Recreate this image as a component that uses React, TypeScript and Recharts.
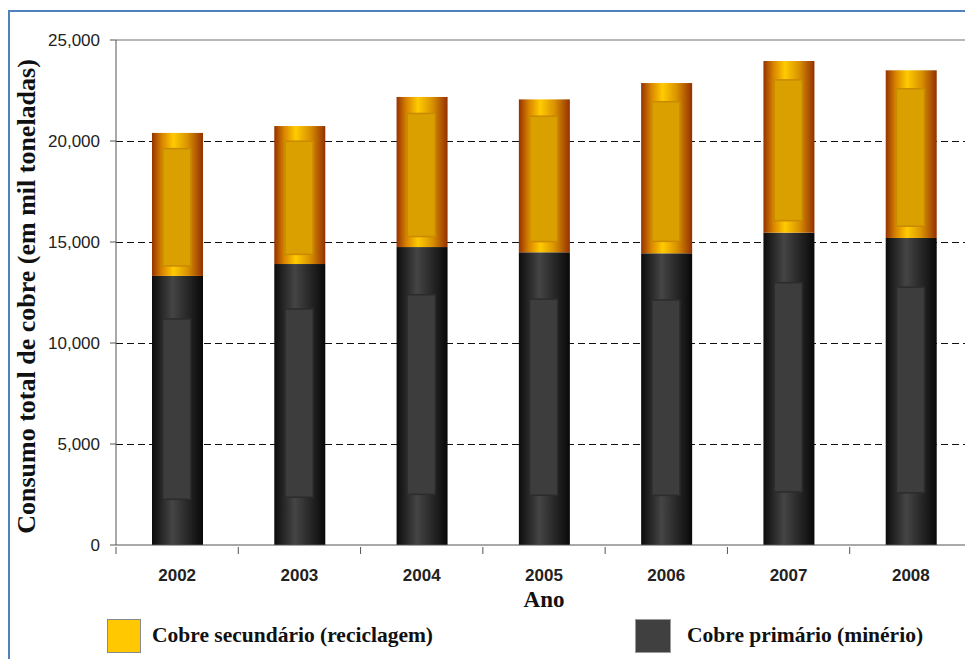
import React from 'react';
import { BarChart, Bar, XAxis, YAxis, CartesianGrid, ReferenceLine, Legend } from 'recharts';

// Consumo mundial de cobre por ano (mil toneladas)
const YEARS = ['2002', '2003', '2004', '2005', '2006', '2007', '2008'];
const PRIMARY = [13320, 13910, 14750, 14490, 14440, 15460, 15200];
const SECONDARY = [7080, 6830, 7430, 7570, 8430, 8500, 8300];
const Y_TICKS = [0, 5000, 10000, 15000, 20000, 25000];
const GRID_VALUES = [5000, 10000, 15000, 20000];
const SERIES_NAMES = ['Cobre secundário (reciclagem)', 'Cobre primário (minério)'];

const data = YEARS.map((ano, i) => ({ ano, primario: PRIMARY[i], secundario: SECONDARY[i] }));

const SANS = "'Liberation Sans', Arial, sans-serif";
const SERIF = "'Liberation Serif', 'Times New Roman', serif";

const W = 965;
const H = 651;

function makeCylinder(gradId: string, innerFill: string, innerStroke: string, topFrac: number, bottomFrac: number) {
  return (props: any) => {
    const { x, y, width, height } = props;
    if (!height || height <= 0) return <g />;
    const ix = x + width * 0.21;
    const iw = width * 0.55;
    const iy = y + height * topFrac;
    const ih = height * (1 - topFrac - bottomFrac);
    return (
      <g>
        <rect x={x} y={y} width={width} height={height} fill={`url(#${gradId})`} />
        <rect x={ix} y={iy} width={iw} height={ih} fill={innerFill} stroke={innerStroke} strokeWidth={1.5} />
      </g>
    );
  };
}

const GoldShape = makeCylinder('goldGrad', '#d9a000', '#c98a00', 0.11, 0.07);
const DarkShape = makeCylinder('darkGrad', '#3d3d3d', '#2c2c2c', 0.16, 0.17);

const YearTick = (props: any) => {
  const { x, y, payload, index } = props;
  const half = payload && typeof payload.offset === 'number' && payload.offset > 0 ? payload.offset : 61;
  return (
    <g>
      {index === 0 && <line x1={x - half} y1={y} x2={x - half} y2={y + 7} stroke="#555" />}
      <line x1={x + half} y1={y} x2={x + half} y2={y + 7} stroke="#555" />
      <text x={x} y={y + 34} textAnchor="middle" fontFamily={SANS} fontWeight="bold" fontSize={17} fill="#222">
        {payload.value}
      </text>
    </g>
  );
};

const YLabel = (props: any) => {
  const vb = props.viewBox || {};
  const cx = 18;
  const cy = (vb.y || 0) + (vb.height || 0) / 2 + 4;
  return (
    <text
      x={cx}
      y={cy}
      transform={`rotate(-90, ${cx}, ${cy})`}
      textAnchor="middle"
      dominantBaseline="central"
      fontFamily={SERIF}
      fontWeight="bold"
      fontSize={26}
      fill="#111"
    >
      Consumo total de cobre (em mil toneladas)
    </text>
  );
};

const LegendContent = () => (
  <div style={{ position: 'relative', width: W, height: 46 }}>
    <div style={{ position: 'absolute', left: 99, top: 6, width: 32, height: 32, background: '#ffc800', border: '1px solid #8a8a8a' }} />
    <div style={{ position: 'absolute', left: 144, top: 8, fontFamily: SERIF, fontWeight: 'bold', fontSize: 21.5, color: '#111', lineHeight: '28px', whiteSpace: 'nowrap' }}>
      {SERIES_NAMES[0]}
    </div>
    <div style={{ position: 'absolute', left: 627, top: 6, width: 34, height: 32, background: '#404040', border: '1px solid #9a9a9a' }} />
    <div style={{ position: 'absolute', left: 679, top: 8, fontFamily: SERIF, fontWeight: 'bold', fontSize: 21.5, color: '#111', lineHeight: '28px', whiteSpace: 'nowrap' }}>
      {SERIES_NAMES[1]}
    </div>
  </div>
);

export default function App() {
  return (
    <div style={{ position: 'relative', width: W, height: H, overflow: 'hidden', background: '#fff' }}>
      <div style={{ position: 'absolute', left: 0, top: 2, width: W, height: H, borderLeft: '2px solid #4f81bd', borderTop: '2px solid #4f81bd', boxSizing: 'border-box', pointerEvents: 'none', zIndex: 2 }} />
      <BarChart width={W} height={H} data={data} margin={{ top: 32, right: 1, left: 0, bottom: 0 }} barSize={51}>
        <defs>
          <linearGradient id="goldGrad" x1="0" y1="0" x2="1" y2="0">
            <stop offset="0%" stopColor="#963200" />
            <stop offset="20%" stopColor="#d98600" />
            <stop offset="42%" stopColor="#ffcb00" />
            <stop offset="70%" stopColor="#d99200" />
            <stop offset="100%" stopColor="#943000" />
          </linearGradient>
          <linearGradient id="darkGrad" x1="0" y1="0" x2="1" y2="0">
            <stop offset="0%" stopColor="#0c0c0c" />
            <stop offset="40%" stopColor="#454545" />
            <stop offset="75%" stopColor="#222" />
            <stop offset="100%" stopColor="#080808" />
          </linearGradient>
        </defs>
        <CartesianGrid vertical={false} horizontalValues={GRID_VALUES} stroke="#111" strokeDasharray="7 4" shapeRendering="crispEdges" />
        <ReferenceLine y={25000} stroke="#a0a0a0" strokeWidth={1.5} ifOverflow="visible" />
        <XAxis
          dataKey="ano"
          height={68}
          axisLine={{ stroke: '#555' }}
          tickLine={false}
          tickSize={0}
          tick={<YearTick />}
          interval={0}
          label={{ value: 'Ano', position: 'insideBottom', offset: 6, fontFamily: SERIF, fontWeight: 'bold', fontSize: 23, fill: '#111' }}
        />
        <YAxis
          width={108}
          domain={[0, 25000]}
          ticks={Y_TICKS}
          interval={0}
          axisLine={{ stroke: '#555' }}
          tickLine={{ stroke: '#555' }}
          tickSize={6}
          tickMargin={10}
          tick={{ fontFamily: SANS, fontSize: 17, fill: '#222' }}
          tickFormatter={(v: number) => v.toLocaleString('en-US')}
          label={<YLabel />}
        />
        <Legend verticalAlign="bottom" align="left" height={46} content={<LegendContent />} wrapperStyle={{ left: 0, width: W }} />
        <Bar dataKey="primario" name={SERIES_NAMES[1]} stackId="a" fill="#404040" shape={DarkShape} isAnimationActive={false} />
        <Bar dataKey="secundario" name={SERIES_NAMES[0]} stackId="a" fill="#ffc800" shape={GoldShape} isAnimationActive={false} />
      </BarChart>
    </div>
  );
}
